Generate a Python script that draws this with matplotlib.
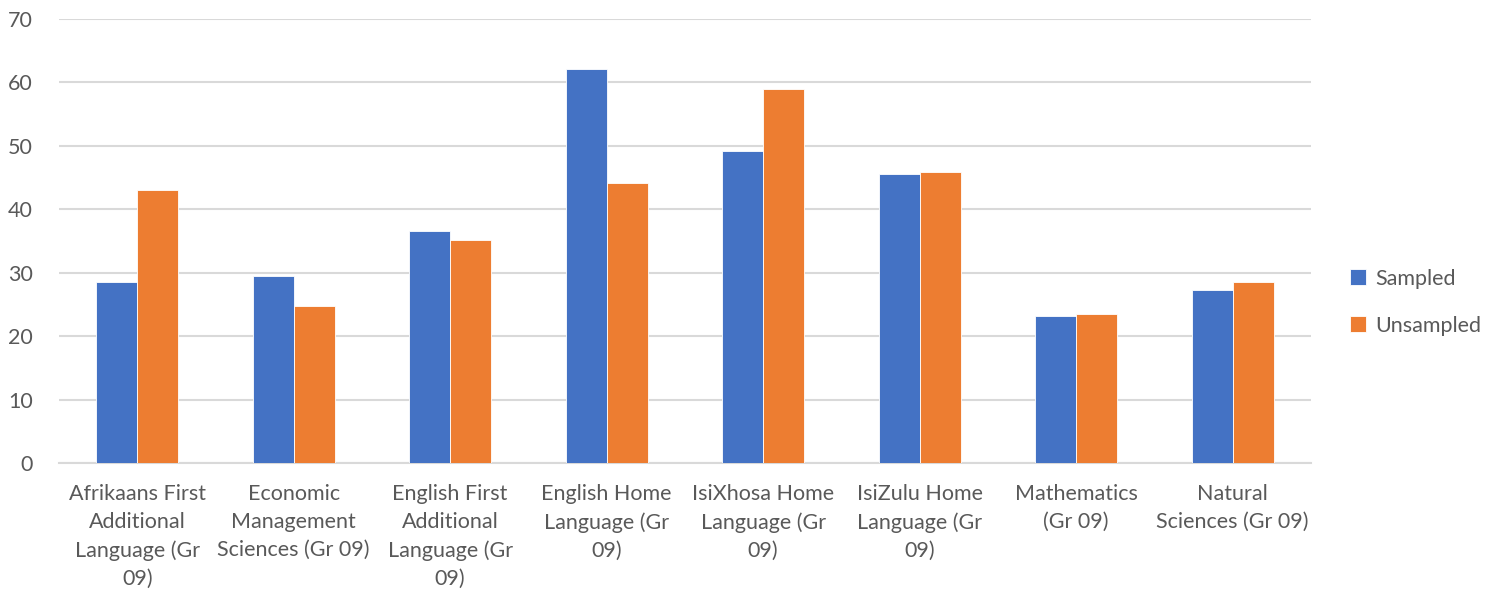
import numpy as np
import matplotlib
matplotlib.use('Agg')
import matplotlib.pyplot as plt

# --- data --- #
subjects = ['Afrikaans First\nAdditional\nLanguage (Gr\n09)',
            'Economic\nManagement\nSciences (Gr 09)',
            'English First\nAdditional\nLanguage (Gr\n09)',
            'English Home\nLanguage (Gr\n09)',
            'IsiXhosa Home\nLanguage (Gr\n09)',
            'IsiZulu Home\nLanguage (Gr\n09)',
            'Mathematics\n(Gr 09)',
            'Natural\nSciences (Gr 09)']
sampled = [28.6, 29.5, 36.6, 62.1, 49.2, 45.5, 23.1, 27.2]
unsampled = [43.0, 24.8, 35.1, 44.1, 59.0, 45.9, 23.5, 28.6]

plt.rcParams['font.family'] = ['Lato', 'DejaVu Sans']
txt = '#595959'
fs = 15.5

fig = plt.figure(figsize=(14.85, 5.91), dpi=100)
ax = fig.add_axes([0.0397, 0.2166, 0.843, 0.7513])

barWidth = 0.262
r = np.arange(len(subjects))
ax.bar(r - barWidth / 2, sampled, width=barWidth, color='#4472c4',
       edgecolor='white', linewidth=0.6, label='Sampled', zorder=3)
ax.bar(r + barWidth / 2, unsampled, width=barWidth, color='#ed7d31',
       edgecolor='white', linewidth=0.6, label='Unsampled', zorder=3)

ax.set_xlim(-0.5, len(subjects) - 0.5)
ax.set_ylim(0, 70)
ax.set_yticks(range(0, 71, 10))
ax.yaxis.grid(True, color='#d9d9d9', linewidth=1.5, zorder=0)
for s in ['top', 'right', 'left']:
    ax.spines[s].set_visible(False)
ax.spines['bottom'].set_color('#d9d9d9')
ax.spines['bottom'].set_linewidth(1.5)

# wrapped subject names under each group
ax.set_xticks(r)
ax.set_xticklabels(subjects, fontsize=fs, color=txt, linespacing=1.5)
ax.tick_params(axis='x', length=0, pad=15)
ax.tick_params(axis='y', length=0, labelsize=fs, labelcolor=txt, pad=19)

ax.legend(loc='center left', bbox_to_anchor=(1.016, 0.362), frameon=False,
          fontsize=fs, labelcolor=txt, handlelength=0.75, handleheight=0.75,
          handletextpad=0.4, labelspacing=1.25)

fig.savefig('out.png', dpi=100)
